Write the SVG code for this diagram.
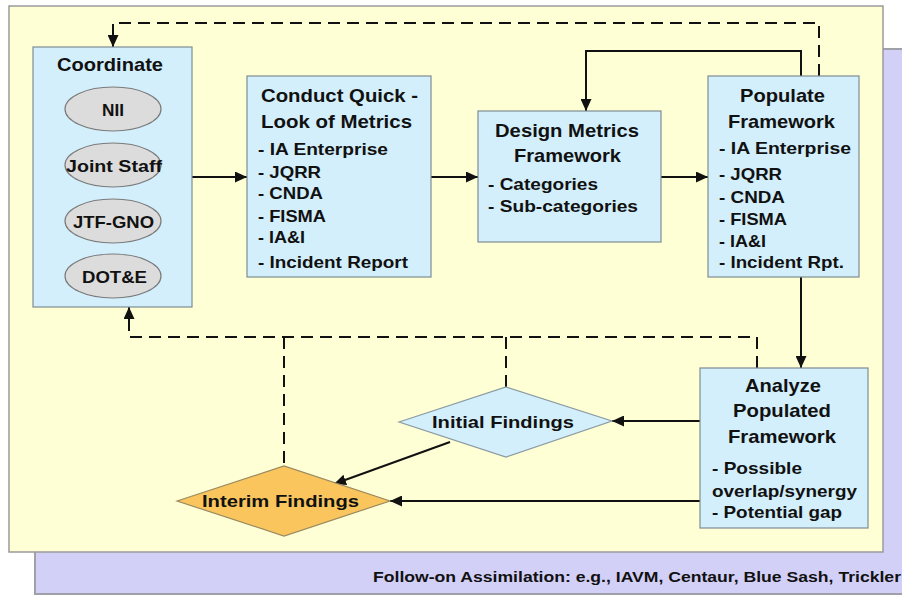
<svg xmlns="http://www.w3.org/2000/svg" width="902" height="596" viewBox="0 0 902 596">
<defs>
<style>
.t{font-family:"Liberation Sans",Arial,sans-serif;font-weight:bold;fill:#111;}
.h{font-size:18.5px;}
.i{font-size:16.5px;}
.e{font-size:16.5px;}
.f{font-size:14px;}
.box{fill:#D3EFFC;stroke:#7f8c94;stroke-width:1.2;}
.ell{fill:#DCDCDC;stroke:#7a7a7a;stroke-width:1.2;}
.ln{fill:none;stroke:#111;stroke-width:2;}
.ds{fill:none;stroke:#111;stroke-width:2;stroke-dasharray:12,7;}
</style>
<marker id="ah" markerUnits="userSpaceOnUse" markerWidth="13" markerHeight="11" refX="12" refY="5.5" orient="auto">
<path d="M0,0 L12,5.5 L0,11 z" fill="#111"/>
</marker>
</defs>
<rect x="0" y="0" width="902" height="596" fill="#ffffff"/>
<g id="footer-panel">
<rect x="35" y="49" width="880" height="545" fill="#D3D0F8" stroke="#a0a0a8" stroke-width="2"/>
<text class="t f" x="373" y="582" textLength="528" lengthAdjust="spacingAndGlyphs">Follow-on Assimilation: e.g., IAVM, Centaur, Blue Sash, Trickler</text>
</g>
<g id="main-panel">
<rect x="9" y="6" width="874" height="546" fill="#FFFFD5" stroke="#9a9a9a" stroke-width="1.5"/>
</g>
<g id="connectors">
<line class="ln" x1="192" y1="177" x2="247" y2="177" marker-end="url(#ah)"/>
<line class="ln" x1="431" y1="177" x2="478" y2="177" marker-end="url(#ah)"/>
<line class="ln" x1="661" y1="177" x2="708" y2="177" marker-end="url(#ah)"/>
<polyline class="ln" points="801,76 801,51 586,51 586,111" marker-end="url(#ah)"/>
<polyline class="ds" points="819,76 819,23 113,23 113,47" marker-end="url(#ah)"/>
<line class="ln" x1="801" y1="277" x2="801" y2="368" marker-end="url(#ah)"/>
<polyline class="ds" points="757,368 757,337 129,337 129,307" marker-end="url(#ah)"/>
<line class="ds" x1="506" y1="337" x2="506" y2="387"/>
<line class="ds" x1="284" y1="337" x2="284" y2="466"/>
<line class="ln" x1="700" y1="421" x2="612" y2="421" marker-end="url(#ah)"/>
<line class="ln" x1="700" y1="501" x2="390" y2="501" marker-end="url(#ah)"/>
<line class="ln" x1="450" y1="442" x2="334" y2="484" marker-end="url(#ah)"/>
</g>
<g id="coordinate">
<rect class="box" x="33" y="47" width="159" height="260"/>
<text class="t h" x="57" y="71" textLength="106" lengthAdjust="spacingAndGlyphs">Coordinate</text>
</g>
<g id="nii">
<ellipse class="ell" cx="113" cy="109" rx="48" ry="22"/>
<text class="t e" x="102" y="116" textLength="22" lengthAdjust="spacingAndGlyphs">NII</text>
</g>
<g id="joint-staff">
<ellipse class="ell" cx="113" cy="165" rx="48" ry="22"/>
<text class="t e" x="66" y="172" textLength="96" lengthAdjust="spacingAndGlyphs">Joint Staff</text>
</g>
<g id="jtf-gno">
<ellipse class="ell" cx="113" cy="221" rx="48" ry="22"/>
<text class="t e" x="73" y="228" textLength="81" lengthAdjust="spacingAndGlyphs">JTF-GNO</text>
</g>
<g id="dot-e">
<ellipse class="ell" cx="113" cy="276" rx="48" ry="22"/>
<text class="t e" x="82" y="283" textLength="65" lengthAdjust="spacingAndGlyphs">DOT&amp;E</text>
</g>
<g id="conduct">
<rect class="box" x="247" y="76" width="184" height="201"/>
<text class="t h" x="261" y="102" textLength="157" lengthAdjust="spacingAndGlyphs">Conduct Quick -</text>
<text class="t h" x="261" y="128" textLength="151" lengthAdjust="spacingAndGlyphs">Look of Metrics</text>
<text class="t i" x="258" y="155" textLength="130" lengthAdjust="spacingAndGlyphs">- IA Enterprise</text>
<text class="t i" x="258" y="178" textLength="63" lengthAdjust="spacingAndGlyphs">- JQRR</text>
<text class="t i" x="258" y="199" textLength="65" lengthAdjust="spacingAndGlyphs">- CNDA</text>
<text class="t i" x="258" y="222" textLength="68" lengthAdjust="spacingAndGlyphs">- FISMA</text>
<text class="t i" x="258" y="243" textLength="47" lengthAdjust="spacingAndGlyphs">- IA&amp;I</text>
<text class="t i" x="258" y="268" textLength="150" lengthAdjust="spacingAndGlyphs">- Incident Report</text>
</g>
<g id="design">
<rect class="box" x="478" y="111" width="183" height="131"/>
<text class="t h" x="495" y="137" textLength="144" lengthAdjust="spacingAndGlyphs">Design Metrics</text>
<text class="t h" x="514" y="162" textLength="107" lengthAdjust="spacingAndGlyphs">Framework</text>
<text class="t i" x="488" y="190" textLength="110" lengthAdjust="spacingAndGlyphs">- Categories</text>
<text class="t i" x="488" y="212" textLength="150" lengthAdjust="spacingAndGlyphs">- Sub-categories</text>
</g>
<g id="populate">
<rect class="box" x="708" y="76" width="151" height="201"/>
<text class="t h" x="740" y="102" textLength="85" lengthAdjust="spacingAndGlyphs">Populate</text>
<text class="t h" x="728" y="128" textLength="107" lengthAdjust="spacingAndGlyphs">Framework</text>
<text class="t i" x="719" y="154" textLength="132" lengthAdjust="spacingAndGlyphs">- IA Enterprise</text>
<text class="t i" x="719" y="180" textLength="63" lengthAdjust="spacingAndGlyphs">- JQRR</text>
<text class="t i" x="719" y="203" textLength="66" lengthAdjust="spacingAndGlyphs">- CNDA</text>
<text class="t i" x="719" y="225" textLength="68" lengthAdjust="spacingAndGlyphs">- FISMA</text>
<text class="t i" x="719" y="247" textLength="47" lengthAdjust="spacingAndGlyphs">- IA&amp;I</text>
<text class="t i" x="719" y="268" textLength="125" lengthAdjust="spacingAndGlyphs">- Incident Rpt.</text>
</g>
<g id="analyze">
<rect class="box" x="700" y="368" width="168" height="160"/>
<text class="t h" x="745" y="392" textLength="76" lengthAdjust="spacingAndGlyphs">Analyze</text>
<text class="t h" x="733" y="417" textLength="98" lengthAdjust="spacingAndGlyphs">Populated</text>
<text class="t h" x="728" y="443" textLength="108" lengthAdjust="spacingAndGlyphs">Framework</text>
<text class="t i" x="712" y="474" textLength="90" lengthAdjust="spacingAndGlyphs">- Possible</text>
<text class="t i" x="712" y="497" textLength="145" lengthAdjust="spacingAndGlyphs">overlap/synergy</text>
<text class="t i" x="712" y="518" textLength="130" lengthAdjust="spacingAndGlyphs">- Potential gap</text>
</g>
<g id="initial-findings">
<polygon points="399,422 506,387 612,421 506,457" fill="#D3EFFC" stroke="#8a9aa2" stroke-width="1.2"/>
<text class="t i" x="432" y="428" textLength="142" lengthAdjust="spacingAndGlyphs">Initial Findings</text>
</g>
<g id="interim-findings">
<polygon points="177,501 284,466 390,501 284,536" fill="#F9C55C" stroke="#9a8a60" stroke-width="1.2"/>
<text class="t i" x="202" y="507" textLength="157" lengthAdjust="spacingAndGlyphs">Interim Findings</text>
</g>
</svg>
